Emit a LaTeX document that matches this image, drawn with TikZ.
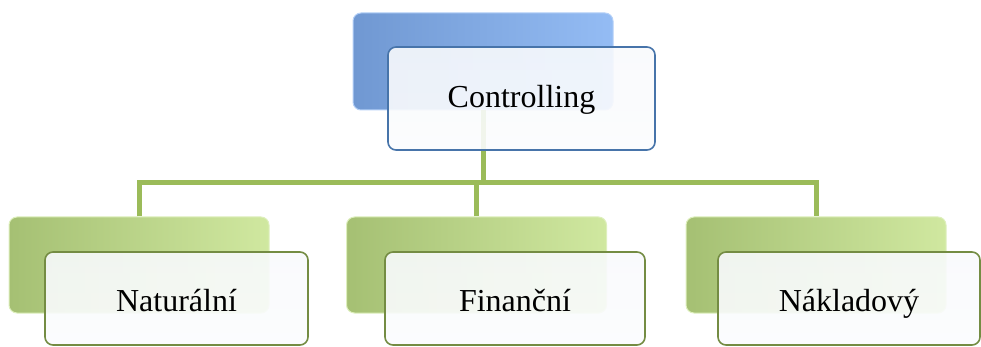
\documentclass[tikz,border=0pt]{standalone}
\usepackage{fontspec}
\setmainfont{Liberation Serif}
\usepackage{tikz}

\definecolor{ctrlblue}{RGB}{79,129,189}
\definecolor{ctrlgreen}{RGB}{155,187,89}
\definecolor{blueleft}{RGB}{112,152,210}
\definecolor{blueright}{RGB}{148,188,244}
\definecolor{greenleft}{RGB}{165,192,115}
\definecolor{greenright}{RGB}{208,232,160}

\begin{document}
\begin{tikzpicture}[x=1pt,y=-1pt]
		\tikzstyle{backblue}=[draw=blueright!70,line width=1pt,rounded corners=8pt,left color=blueleft,right color=blueright,minimum width=260pt,minimum height=97pt,inner sep=0pt]
		\tikzstyle{backgreen}=[draw=greenright!70,line width=1pt,rounded corners=8pt,left color=greenleft,right color=greenright,minimum width=260pt,minimum height=96pt,inner sep=0pt]
		\tikzstyle{front}=[draw,line width=1.6pt,rounded corners=8pt,top color=white!92!ctrlblue!50,bottom color=white!98!ctrlblue,fill opacity=0.9,text opacity=1,minimum height=93pt,inner sep=0pt,text height=31pt,text depth=5pt,font=\fontsize{32}{38}\selectfont]
		\tikzstyle{conn}=[draw=ctrlgreen,line width=5pt]

		\useasboundingbox (0,0) rectangle (981,347);

		% upper level
		\node[backblue](ctrlback) at (483,61.5){};

		% lower level
		\node[backgreen](natback) at (139,265){};
		\node[backgreen](finback) at (476.5,265){};
		\node[backgreen](nakback) at (816,265){};

		% connectors
		\coordinate (hub) at (483,183);
		\draw[conn] (ctrlback.south) -- (hub);
		\draw[conn] (natback.north) |- (hub) -| (nakback.north);
		\draw[conn] (finback.north) -- (finback.north |- hub);

		\node[front,draw=ctrlblue!90!black,minimum width=267pt,minimum height=103pt,text height=24pt](ctrl) at (521.5,98.5){Controlling};
		\node[front,draw=ctrlgreen!75!black,minimum width=263pt](nat) at (176.5,298.5){Naturální};
		\node[front,draw=ctrlgreen!75!black,minimum width=260pt](fin) at (515,298.5){Finanční};
		\node[front,draw=ctrlgreen!75!black,minimum width=262pt](nak) at (849,298.5){Nákladový};
	\end{tikzpicture}
\end{document}
